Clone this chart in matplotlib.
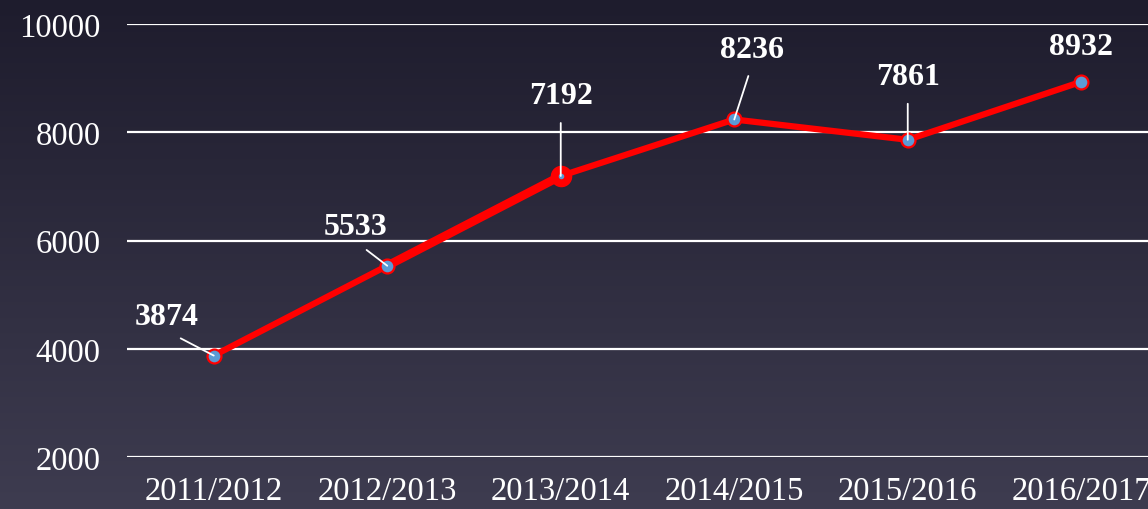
import numpy as np
import matplotlib
matplotlib.use("Agg")
import matplotlib.pyplot as plt

plt.rcParams['font.family'] = ['Liberation Serif', 'DejaVu Serif']

# data
years = ["2011/2012", "2012/2013", "2013/2014", "2014/2015", "2015/2016", "2016/2017"]
values = [3874, 5533, 7192, 8236, 7861, 8932]
yticks = [2000, 4000, 6000, 8000, 10000]

# label offsets in pixels (text centre relative to the point)
label_dx = [-47, -32, 0, 18, 0, 0]
label_dy = [39, 39, 80, 70, 63, 35]
has_leader = [True, True, True, True, True, False]

fig = plt.figure(figsize=(11.48, 5.10), dpi=100)

# background gradient
bg = fig.add_axes([0, 0, 1, 1], zorder=-1)
top = np.array([30, 28, 45]) / 255
bottom = np.array([62, 60, 80]) / 255
t = np.linspace(0, 1, 256)[:, None]
grad = top + (bottom - top) * t
bg.imshow(grad[:, None, :].repeat(4, axis=1), aspect='auto', extent=[0, 1, 0, 1])
bg.axis('off')

ax = fig.add_axes([127 / 1148, 52 / 510, 1041 / 1148, 433 / 510])
ax.patch.set_alpha(0)

x = np.arange(len(years))
ax.plot(x, values, color='#ff0000', lw=4.5, zorder=3, solid_capstyle='round')
ax.plot(x[1:3], values[1:3], color='#ff0000', lw=6.2, zorder=3, solid_capstyle='round')
ax.plot(x, values, 'o', ms=10, mfc='#5b9bd5', mec='#ff0000', mew=1.6, zorder=4)
ax.plot(x[2], values[2], 'o', ms=14.5, mfc='#ff0000', mec='#ff0000', zorder=5)
ax.plot(x[2], values[2], 'o', ms=3, mfc='#5b9bd5', mec='#5b9bd5', zorder=6)

for i, v in enumerate(values):
    arrow = None
    if has_leader[i]:
        arrow = dict(arrowstyle='-', color='white', lw=1.3, relpos=(0.5, 0),
                     shrinkA=7, shrinkB=0)
    ax.annotate(str(v), xy=(x[i], v), xytext=(label_dx[i], label_dy[i]),
                textcoords='offset pixels', ha='center', va='center',
                fontsize=23, fontweight='bold', color='white',
                arrowprops=arrow, zorder=7)

ax.set_xlim(-0.5, len(years) - 0.5)
ax.set_ylim(2000, 10000)
ax.set_yticks(yticks)
ax.set_xticks(x)
ax.set_xticklabels(years)
ax.yaxis.grid(True, color='white', lw=1.6)
ax.set_axisbelow(True)
for s in ax.spines.values():
    s.set_visible(False)
ax.tick_params(axis='both', length=0, colors='white', labelsize=23.5)
ax.tick_params(axis='y', pad=19)
ax.tick_params(axis='x', pad=13)

fig.savefig("out.png", dpi=100)
